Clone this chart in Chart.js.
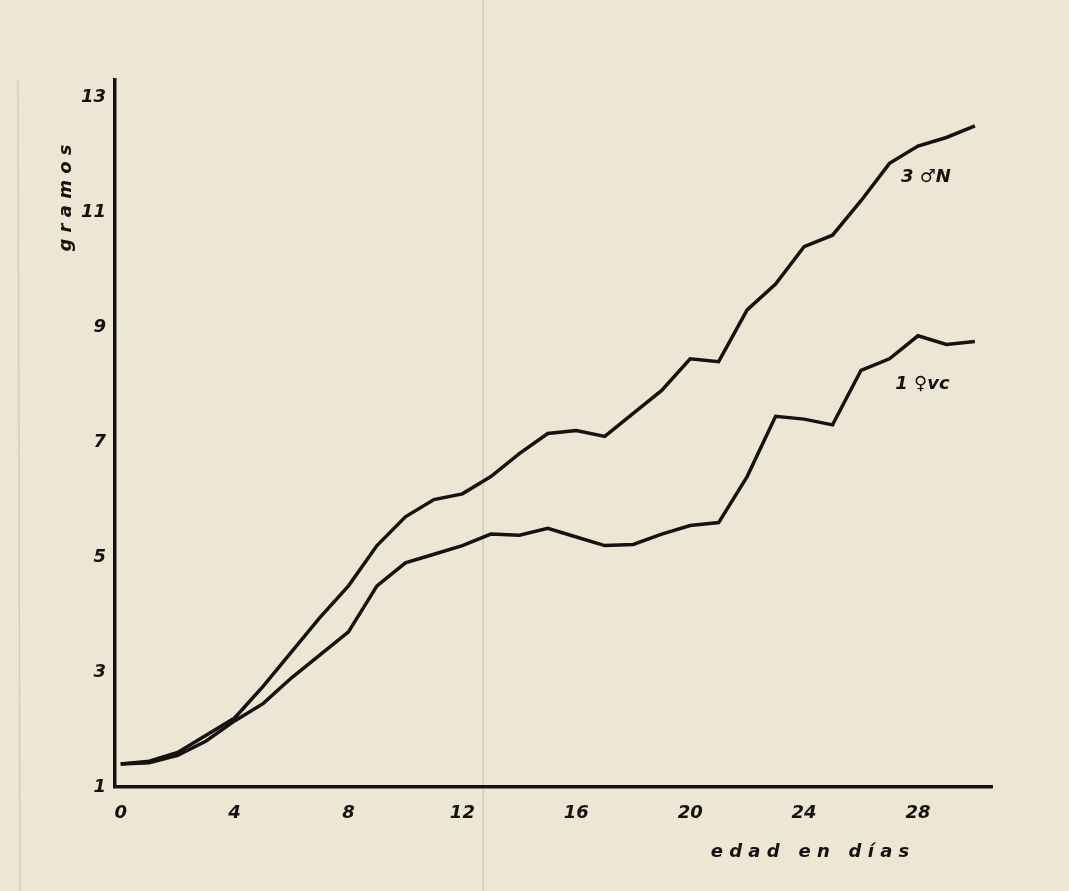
<!DOCTYPE html>
<html>
<head>
<meta charset="utf-8">
<title>gramos / edad en días</title>
<script src="https://cdn.jsdelivr.net/npm/chart.js@4.4.1/dist/chart.umd.min.js"></script>
<style>
  html, body { margin: 0; padding: 0; background: #ece6d4; }
  #wrap { position: relative; width: 1069px; height: 891px; }
</style>
</head>
<body>
<div id="wrap"><canvas id="chart" width="1069" height="891"></canvas></div>
<script>
// days 0..30
const days = [0, 1, 2, 3, 4, 5, 6, 7, 8, 9, 10, 11, 12, 13, 14, 15, 16, 17, 18, 19, 20, 21, 22, 23, 24, 25, 26, 27, 28, 29, 30];
// 3 ♂ N (upper curve)
const males = [1.4, 1.45, 1.6, 1.9, 2.2, 2.75, 3.35, 3.95, 4.5, 5.2, 5.7, 6.0, 6.1, 6.4, 6.8, 7.15, 7.2, 7.1, 7.5, 7.9, 8.45, 8.4, 9.3, 9.75, 10.4, 10.6, 11.2, 11.85, 12.15, 12.3, 12.5];
// 1 ♀ vc (lower curve)
const female = [1.4, 1.42, 1.55, 1.8, 2.15, 2.45, 2.9, 3.3, 3.7, 4.5, 4.9, 5.05, 5.2, 5.4, 5.38, 5.5, 5.35, 5.2, 5.22, 5.4, 5.55, 5.6, 6.4, 7.45, 7.4, 7.3, 8.25, 8.45, 8.85, 8.7, 8.75];
const xTicks = [0, 4, 8, 12, 16, 20, 24, 28];
const yTicks = [1, 3, 5, 7, 9, 11, 13];

const ink = '#151311';
const labelFont = 'bold italic 18px "DejaVu Sans", sans-serif';

function toPoints(values) {
    return days.map((d, i) => ({ x: d, y: values[i] }));
}

// faint paper fold before drawing
const paperPlugin = {
    id: 'paper',
    beforeDraw(chart) {
        const ctx = chart.ctx;
        ctx.save();
        ctx.strokeStyle = 'rgba(205, 185, 160, 0.6)';
        ctx.lineWidth = 1.5;
        ctx.beginPath();
        ctx.moveTo(483, 0);
        ctx.lineTo(483, 891);
        ctx.moveTo(18, 80);
        ctx.lineTo(20, 891);
        ctx.stroke();
        ctx.restore();
    }
};

// extra texts: axis titles and curve labels
const textPlugin = {
    id: 'texts',
    afterDraw(chart) {
        const ctx = chart.ctx;
        const x = chart.scales.x, y = chart.scales.y;
        ctx.save();
        ctx.fillStyle = ink;
        ctx.font = labelFont;
        ctx.textBaseline = 'middle';

        ctx.textAlign = 'left';
        ctx.fillText('3 ♂N', x.getPixelForValue(27.4), y.getPixelForValue(11.6));
        ctx.fillText('1 ♀vc', x.getPixelForValue(27.2), y.getPixelForValue(8.0));

        ctx.textAlign = 'center';
        ctx.fillText('e d a d   e n   d í a s', 810, 852);

        ctx.translate(66, 198);
        ctx.rotate(-Math.PI / 2);
        ctx.fillText('g r a m o s', 0, 0);
        ctx.restore();
    }
};

new Chart(document.getElementById('chart'), {
    type: 'line',
    data: {
        datasets: [
            {
                label: '3 ♂ N',
                data: toPoints(males),
                borderColor: ink,
                borderWidth: 3.5,
                pointRadius: 0,
                tension: 0,
                fill: false
            },
            {
                label: '1 ♀ vc',
                data: toPoints(female),
                borderColor: ink,
                borderWidth: 3.5,
                pointRadius: 0,
                tension: 0,
                fill: false
            }
        ]
    },
    options: {
        responsive: false,
        animation: false,
        layout: { padding: { top: 80, right: 77, left: 0, bottom: 0 } },
        plugins: {
            legend: { display: false },
            tooltip: { enabled: false }
        },
        scales: {
            x: {
                type: 'linear',
                min: -0.2,
                max: 30.6,
                afterBuildTicks: scale => { scale.ticks = xTicks.map(v => ({ value: v })); },
                afterFit: scale => { scale.height = 104; },
                grid: { display: false },
                border: { display: true, color: ink, width: 3.5 },
                ticks: {
                    color: ink,
                    font: { family: '"DejaVu Sans", sans-serif', size: 18, style: 'italic', weight: 'bold' },
                    padding: 8,
                    maxRotation: 0
                }
            },
            y: {
                type: 'linear',
                min: 1,
                max: 13.3,
                afterBuildTicks: scale => { scale.ticks = yTicks.map(v => ({ value: v })); },
                afterFit: scale => { scale.width = 115; },
                grid: { display: false },
                border: { display: true, color: ink, width: 3.5 },
                ticks: {
                    color: ink,
                    font: { family: '"DejaVu Sans", sans-serif', size: 18, style: 'italic', weight: 'bold' },
                    padding: 1
                }
            }
        }
    },
    plugins: [paperPlugin, textPlugin]
});
</script>
</body>
</html>
